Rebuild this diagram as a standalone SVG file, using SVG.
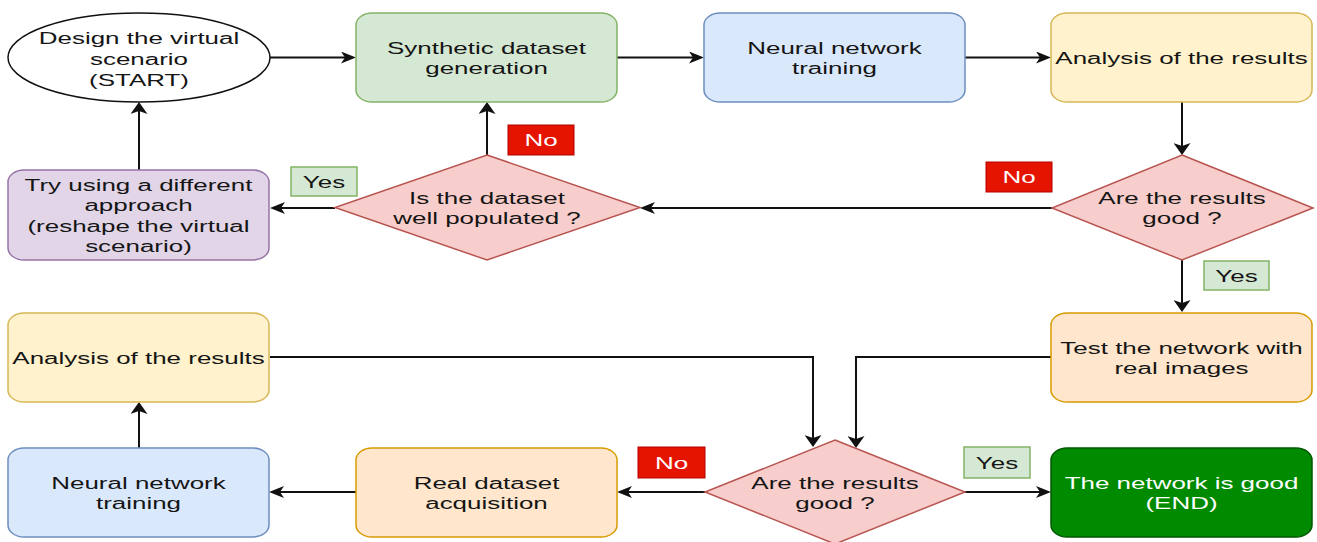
<svg xmlns="http://www.w3.org/2000/svg" width="1317" height="542" viewBox="0 0 1317 542">
<style>
.t{font-family:"Liberation Sans",Arial,sans-serif;font-size:17.3px;fill:#151515;text-anchor:middle}
.w{fill:#ffffff}
.c{fill:none;stroke:#111;stroke-width:2}
.green{fill:#d5e8d4;stroke:#82b366;stroke-width:1.5}
.blue{fill:#dae8fc;stroke:#6c8ebf;stroke-width:1.5}
.yellow{fill:#fff2cc;stroke:#d6b656;stroke-width:1.5}
.orange{fill:#ffe6cc;stroke:#d79b00;stroke-width:1.5}
.purple{fill:#e1d5e7;stroke:#9673a6;stroke-width:1.5}
.red{fill:#f8cecc;stroke:#b85450;stroke-width:1.5}
.end{fill:#008a00;stroke:#005700;stroke-width:1.5}
.no{fill:#e51400;stroke:#b20000;stroke-width:1}
.yes{fill:#d5e8d4;stroke:#82b366;stroke-width:1.5}
</style>
<defs>
<marker id="ah" markerUnits="userSpaceOnUse" viewBox="0 -6 15 12" markerWidth="15" markerHeight="12" refX="11" refY="0" orient="auto">
<path d="M0,-6 L15,0 L0,6 L4,0 Z" fill="#111"/>
</marker>
<marker id="av" markerUnits="userSpaceOnUse" viewBox="0 -8.5 12 17" markerWidth="12" markerHeight="17" refX="9" refY="0" orient="auto">
<path d="M0,-8.5 L12,0 L0,8.5 L3,0 Z" fill="#111"/>
</marker>
</defs>
<rect width="1317" height="542" fill="#ffffff"/>

<g id="connectors">
<path class="c" d="M270,57.5 H352" marker-end="url(#ah)"/>
<path class="c" d="M617,57.5 H700" marker-end="url(#ah)"/>
<path class="c" d="M965,57.5 H1047" marker-end="url(#ah)"/>
<path class="c" d="M1182,102 V152" marker-end="url(#av)"/>
<path class="c" d="M1052,208 H644" marker-end="url(#ah)"/>
<path class="c" d="M487,155 V105" marker-end="url(#av)"/>
<path class="c" d="M335,208 H274" marker-end="url(#ah)"/>
<path class="c" d="M139,170 V105" marker-end="url(#av)"/>
<path class="c" d="M1182,260 V309" marker-end="url(#av)"/>
<path class="c" d="M270,357 H813 V444" marker-end="url(#av)"/>
<path class="c" d="M1051,357 H856 V445" marker-end="url(#av)"/>
<path class="c" d="M705,492 H621" marker-end="url(#ah)"/>
<path class="c" d="M356,492 H273" marker-end="url(#ah)"/>
<path class="c" d="M139,448 V405" marker-end="url(#av)"/>
<path class="c" d="M965,492 H1047" marker-end="url(#ah)"/>
</g>

<g id="start">
<ellipse cx="139" cy="57.5" rx="131" ry="44.5" fill="#ffffff" stroke="#111" stroke-width="1.5"/>
<text class="t" transform="matrix(1.5 0 0 1 139 0)"><tspan x="0" y="44">Design the virtual</tspan><tspan x="0" y="65">scenario</tspan><tspan x="0" y="86">(START)</tspan></text>
</g>

<g id="synthetic">
<rect class="green" x="356" y="13" width="261" height="89" rx="16" ry="12"/>
<text class="t" transform="matrix(1.5 0 0 1 486.5 0)"><tspan x="0" y="54">Synthetic dataset</tspan><tspan x="0" y="74.5">generation</tspan></text>
</g>

<g id="nn-top">
<rect class="blue" x="704" y="13" width="261" height="89" rx="16" ry="12"/>
<text class="t" transform="matrix(1.5 0 0 1 834.5 0)"><tspan x="0" y="54">Neural network</tspan><tspan x="0" y="74.5">training</tspan></text>
</g>

<g id="analysis-top">
<rect class="yellow" x="1051" y="13" width="261" height="89" rx="16" ry="12"/>
<text class="t" transform="matrix(1.5 0 0 1 1181.5 0)"><tspan x="0" y="64">Analysis of the results</tspan></text>
</g>

<g id="results-top">
<polygon class="red" points="1182,155 1313,208 1182,260 1052,208"/>
<text class="t" transform="matrix(1.5 0 0 1 1182 0)"><tspan x="0" y="204">Are the results</tspan><tspan x="0" y="224.5">good ?</tspan></text>
</g>

<g id="dataset-check">
<polygon class="red" points="487,155 640,207.5 487,260 335,207.5"/>
<text class="t" transform="matrix(1.5 0 0 1 487 0)"><tspan x="0" y="204">Is the dataset</tspan><tspan x="0" y="224.5">well populated ?</tspan></text>
</g>

<g id="different-approach">
<rect class="purple" x="8" y="170" width="261" height="90" rx="16" ry="12"/>
<text class="t" transform="matrix(1.5 0 0 1 138.5 0)"><tspan x="0" y="191">Try using a different</tspan><tspan x="0" y="211.5">approach</tspan><tspan x="0" y="232">(reshape the virtual</tspan><tspan x="0" y="252.5">scenario)</tspan></text>
</g>

<g id="test-real">
<rect class="orange" x="1051" y="313" width="261" height="89" rx="16" ry="12"/>
<text class="t" transform="matrix(1.5 0 0 1 1181.5 0)"><tspan x="0" y="354">Test the network with</tspan><tspan x="0" y="374.5">real images</tspan></text>
</g>

<g id="analysis-bottom">
<rect class="yellow" x="8" y="313" width="261" height="89" rx="16" ry="12"/>
<text class="t" transform="matrix(1.5 0 0 1 138.5 0)"><tspan x="0" y="364">Analysis of the results</tspan></text>
</g>

<g id="results-bottom">
<polygon class="red" points="835,440 965,492 835,544 705,492"/>
<text class="t" transform="matrix(1.5 0 0 1 835 0)"><tspan x="0" y="489">Are the results</tspan><tspan x="0" y="509.5">good ?</tspan></text>
</g>

<g id="real-dataset">
<rect class="orange" x="356" y="448" width="261" height="89" rx="16" ry="12"/>
<text class="t" transform="matrix(1.5 0 0 1 486.5 0)"><tspan x="0" y="489">Real dataset</tspan><tspan x="0" y="509.5">acquisition</tspan></text>
</g>

<g id="nn-bottom">
<rect class="blue" x="8" y="448" width="261" height="89" rx="16" ry="12"/>
<text class="t" transform="matrix(1.5 0 0 1 138.5 0)"><tspan x="0" y="489">Neural network</tspan><tspan x="0" y="509.5">training</tspan></text>
</g>

<g id="end">
<rect class="end" x="1051" y="448" width="261" height="89" rx="16" ry="12"/>
<text class="t w" transform="matrix(1.5 0 0 1 1181.5 0)"><tspan x="0" y="489">The network is good</tspan><tspan x="0" y="509.5">(END)</tspan></text>
</g>

<g id="labels">
<rect class="no" x="508" y="125" width="66" height="30"/>
<text class="t w" transform="matrix(1.5 0 0 1 541 0)" x="0" y="146">No</text>
<rect class="yes" x="291" y="167" width="66" height="29"/>
<text class="t" transform="matrix(1.5 0 0 1 324 0)" x="0" y="188">Yes</text>
<rect class="no" x="986" y="162" width="66" height="30"/>
<text class="t w" transform="matrix(1.5 0 0 1 1019 0)" x="0" y="183">No</text>
<rect class="yes" x="1204" y="261" width="65" height="29"/>
<text class="t" transform="matrix(1.5 0 0 1 1236.5 0)" x="0" y="282">Yes</text>
<rect class="no" x="638" y="447" width="67" height="31"/>
<text class="t w" transform="matrix(1.5 0 0 1 671.5 0)" x="0" y="469">No</text>
<rect class="yes" x="964" y="447" width="66" height="31"/>
<text class="t" transform="matrix(1.5 0 0 1 997 0)" x="0" y="469">Yes</text>
</g>
</svg>
